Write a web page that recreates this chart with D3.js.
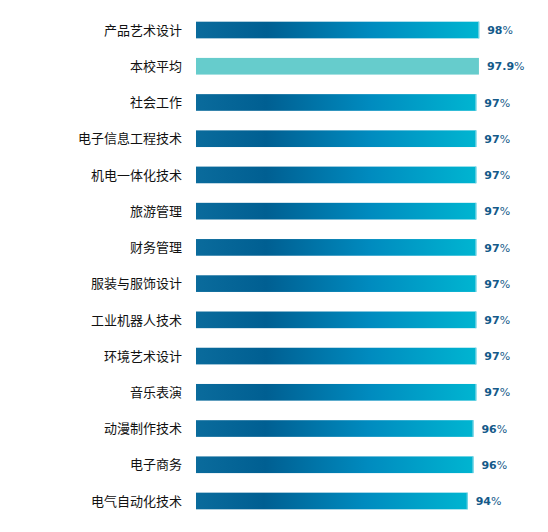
<!DOCTYPE html>
<html>
<head>
<meta charset="utf-8">
<style>
body { margin: 0; background: #fff; }
.cat { font-family: "Noto Sans CJK SC", sans-serif; font-size: 13px; fill: #111; }
.val { font-family: "DejaVu Sans", sans-serif; font-size: 11px; font-weight: bold; fill: #155a8a; }
.pct { font-weight: normal; }
</style>
</head>
<body>
<script src="https://d3js.org/d3.v7.min.js"></script>
<script>
// data
var majors = ["产品艺术设计", "本校平均", "社会工作", "电子信息工程技术", "机电一体化技术",
              "旅游管理", "财务管理", "服装与服饰设计", "工业机器人技术", "环境艺术设计",
              "音乐表演", "动漫制作技术", "电子商务", "电气自动化技术"];
var rates = [98, 97.9, 97, 97, 97, 97, 97, 97, 97, 97, 97, 96, 96, 94];
var avgName = "本校平均";

var width = 548, height = 532;

var svg = d3.select("body").append("svg")
    .attr("width", width)
    .attr("height", height);

var defs = svg.append("defs");
var grad = defs.append("linearGradient")
    .attr("id", "barGrad")
    .attr("x1", "0%").attr("x2", "100%")
    .attr("y1", "0%").attr("y2", "0%");
grad.append("stop").attr("offset", "0%").attr("stop-color", "#0a6b9c");
grad.append("stop").attr("offset", "25%").attr("stop-color", "#005f92");
grad.append("stop").attr("offset", "62%").attr("stop-color", "#008bbf");
grad.append("stop").attr("offset", "100%").attr("stop-color", "#00b5d1");

// scales
var x = d3.scaleLinear()
    .domain([0, 100])
    .range([196, 485]);

var y = d3.scaleBand()
    .domain(majors)
    .range([11.9, 519.1])
    .paddingInner(0.54)
    .paddingOuter(0.27);

var rows = svg.selectAll(".row")
    .data(majors)
  .enter().append("g")
    .attr("class", "row");

// bars
rows.append("rect")
    .attr("x", x(0))
    .attr("y", function(d) { return y(d); })
    .attr("width", function(d, i) { return x(rates[i]) - x(0); })
    .attr("height", y.bandwidth())
    .attr("fill", function(d) { return d === avgName ? "#66cccc" : "url(#barGrad)"; });

// light edge at bar end
rows.filter(function(d) { return d !== avgName; }).append("rect")
    .attr("x", function(d) { return x(rates[majors.indexOf(d)]) - 1; })
    .attr("y", function(d) { return y(d); })
    .attr("width", 1)
    .attr("height", y.bandwidth())
    .attr("fill", "#7fd6e6");

// category labels
rows.append("text")
    .attr("class", "cat")
    .attr("x", 182)
    .attr("y", function(d) { return y(d) + y.bandwidth() / 2; })
    .attr("dy", "0.36em")
    .attr("text-anchor", "end")
    .text(function(d) { return d; });

// value labels
var vals = rows.append("text")
    .attr("class", "val")
    .attr("x", function(d, i) { return x(rates[i]) + 8; })
    .attr("y", function(d) { return y(d) + y.bandwidth() / 2; })
    .attr("dy", "0.38em");
vals.append("tspan").text(function(d, i) { return rates[i]; });
vals.append("tspan").attr("class", "pct").text("%");
</script>
</body>
</html>
